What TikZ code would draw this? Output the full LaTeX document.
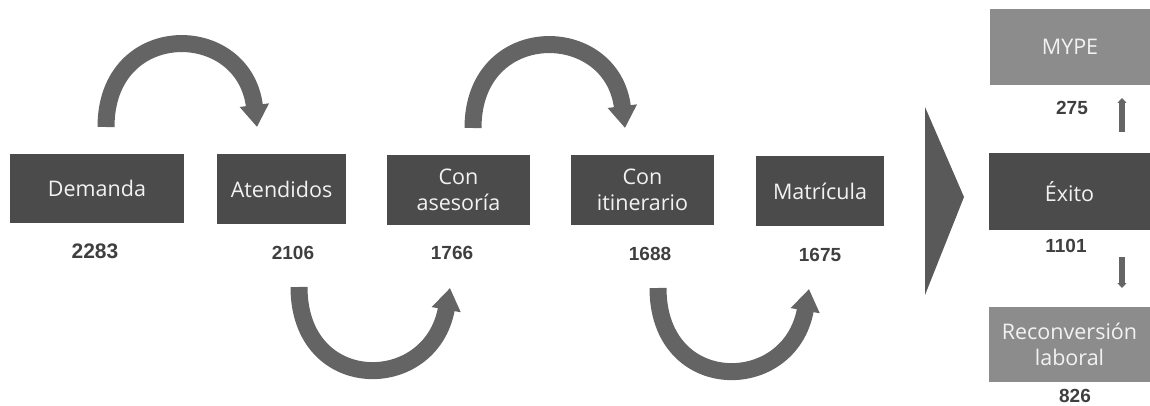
\documentclass[tikz,border=0pt]{standalone}
\usepackage{fontspec}
\setmainfont{Open Sans}
\newfontfamily\numfont{Liberation Sans}
\usetikzlibrary{arrows.meta}
\definecolor{boxdark}{HTML}{4B4B4B}
\definecolor{boxlight}{HTML}{8C8C8C}
\definecolor{arrowgray}{HTML}{646464}
\definecolor{trigray}{HTML}{595959}
\definecolor{numgray}{HTML}{3F3F3F}
\definecolor{txtlight}{HTML}{F2F2F2}
\tikzset{
  darkbox/.style={fill=boxdark, text=txtlight, inner sep=0pt, align=center,
    font=\fontsize{21.5}{26.5}\selectfont},
  lightbox/.style={fill=boxlight, text=txtlight, inner sep=0pt, align=center,
    font=\fontsize{21.5}{26.5}\selectfont},
  numlabel/.style={text=numgray, inner sep=0pt, font=\numfont\bfseries\fontsize{19}{22}\selectfont},
  bigarrow/.style={draw=arrowgray, line width=17pt, -{Triangle[width=28pt,length=22pt]}},
  smallarrow/.style={draw=numgray!80!white, line width=5.5pt, -{Triangle[width=9pt,length=5pt]}},
}
\begin{document}
\begin{tikzpicture}[x=1pt,y=1pt]
\useasboundingbox (0,0) rectangle (1150,405);
% boxes
\node[darkbox, minimum width=174pt, minimum height=69pt] (dem) at (97,216.5) {Demanda};
\node[darkbox, minimum width=129pt, minimum height=70pt] (ate) at (281.5,216) {Atendidos};
\node[darkbox, minimum width=143pt, minimum height=70pt] (ase) at (458.5,215) {Con\\asesoría};
\node[darkbox, minimum width=143pt, minimum height=70pt] (iti) at (642.5,215) {Con\\itinerario};
\node[darkbox, minimum width=128pt, minimum height=70pt] (mat) at (820,214) {Matrícula};
\node[darkbox, minimum width=161pt, minimum height=77pt] (exi) at (1069.5,213.5) {Éxito};
\node[lightbox, minimum width=160pt, minimum height=76pt] (myp) at (1070,358) {MYPE};
\node[lightbox, minimum width=161pt, minimum height=75pt] (rec) at (1069.5,60.5) {Reconversión\\laboral};
% numbers
\node[numlabel, font=\numfont\bfseries\fontsize{21}{24}\selectfont] (n1) at (95,154) {2283};
\node[numlabel] (n2) at (293,152) {2106};
\node[numlabel] (n3) at (452,152) {1766};
\node[numlabel] (n4) at (650,151) {1688};
\node[numlabel] (n5) at (820,150) {1675};
\node[numlabel] (n6) at (1072,297) {275};
\node[numlabel] (n7) at (1066,159) {1101};
\node[numlabel] (n8) at (1075,9) {826};
% big triangle
\fill[trigray] (925,298) -- (964,208) -- (925,110) -- cycle;
% curved arrows
\coordinate (a1s) at (106,278); \coordinate (a1e) at (257,278);
\coordinate (a2s) at (473,277); \coordinate (a2e) at (625,277);
\coordinate (b1s) at (299,118); \coordinate (b1e) at (450,117);
\coordinate (b2s) at (658,117); \coordinate (b2e) at (809,116);
\draw[bigarrow] (a1s) to[out=90,in=97,distance=108pt] (a1e);
\draw[bigarrow] (a2s) to[out=90,in=97,distance=108pt] (a2e);
\draw[bigarrow] (b1s) to[out=-90,in=-100,distance=108pt] (b1e);
\draw[bigarrow] (b2s) to[out=-90,in=-100,distance=108pt] (b2e);
% small arrows
\coordinate (u1) at (1122,273); \coordinate (u2) at (1122,307);
\coordinate (d1) at (1122,148); \coordinate (d2) at (1122,117);
\draw[smallarrow] (u1) -- (u2);
\draw[smallarrow] (d1) -- (d2);
\end{tikzpicture}
\end{document}
